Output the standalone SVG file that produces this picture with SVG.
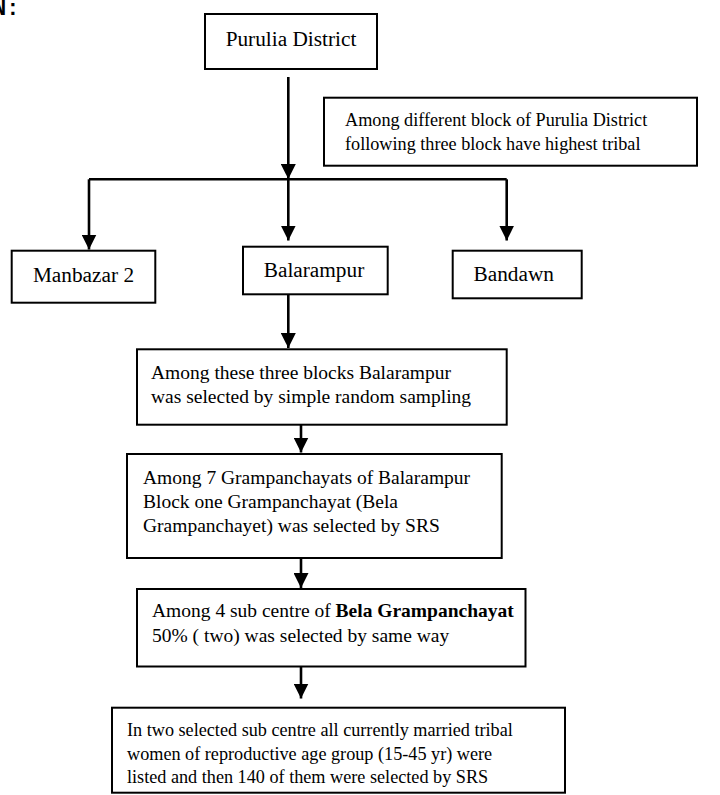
<svg xmlns="http://www.w3.org/2000/svg" width="720" height="795" viewBox="0 0 720 795">
<style>
.box{fill:#fff;stroke:#000;stroke-width:2}
.t{font-family:"Liberation Serif","Times New Roman",serif;font-size:21.3px;fill:#000}
.s{font-size:18.2px}
.m{font-size:19.5px}
.c{text-anchor:middle}
.con{fill:none;stroke:#000;stroke-width:2.6}
</style>
<defs>
<marker id="ah" markerUnits="userSpaceOnUse" markerWidth="15" markerHeight="15" viewBox="0 0 15 15" refX="15" refY="7.5" orient="auto">
<path d="M0,0 L15,7.5 L0,15 z" fill="#000"/>
</marker>
</defs>
<rect width="720" height="795" fill="#fff"/>
<text x="-7" y="15" font-family="Liberation Mono,monospace" font-weight="bold" font-size="22">N:</text>
<g id="connectors">
<path class="con" d="M288.3,77 V179" marker-end="url(#ah)"/>
<path class="con" d="M89,179.3 H506.7"/>
<path class="con" d="M89,179.3 V249.5" marker-end="url(#ah)"/>
<path class="con" d="M288.3,179.3 V240.5" marker-end="url(#ah)"/>
<path class="con" d="M506.7,179.3 V240.5" marker-end="url(#ah)"/>
<path class="con" d="M288.3,294.3 V348" marker-end="url(#ah)"/>
<path class="con" d="M301,424.7 V452.5" marker-end="url(#ah)"/>
<path class="con" d="M301,558 V588" marker-end="url(#ah)"/>
<path class="con" d="M301,666.5 V698.5" marker-end="url(#ah)"/>
</g>
<g id="purulia">
<rect class="box" x="205" y="14" width="172" height="55"/>
<text class="t c" x="291" y="46">Purulia District</text>
</g>
<g id="note">
<rect class="box" x="324" y="97.7" width="373" height="68"/>
<text class="t s" x="345" y="126">Among different block of Purulia District</text>
<text class="t s" x="345" y="150">following three block have highest tribal</text>
</g>
<g id="manbazar">
<rect class="box" x="11.7" y="250.7" width="143.6" height="52"/>
<text class="t c" x="83.5" y="282">Manbazar 2</text>
</g>
<g id="balarampur">
<rect class="box" x="243" y="246.7" width="144.7" height="47.6"/>
<text class="t c" x="314" y="277">Balarampur</text>
</g>
<g id="bandawn">
<rect class="box" x="452.7" y="250.7" width="129" height="47.6"/>
<text class="t c" x="513.7" y="281">Bandawn</text>
</g>
<g id="step1">
<rect class="box" x="137" y="349.3" width="369.7" height="75.4"/>
<text class="t m" x="151" y="378.5">Among these three blocks Balarampur</text>
<text class="t m" x="151" y="403">was selected by simple random sampling</text>
</g>
<g id="step2">
<rect class="box" x="127" y="454" width="374.7" height="104"/>
<text class="t m" x="143" y="483.5">Among 7 Grampanchayats of Balarampur</text>
<text class="t m" x="143" y="507.5">Block one Grampanchayat (Bela</text>
<text class="t m" x="143" y="532">Grampanchayet) was selected by SRS</text>
</g>
<g id="step3">
<rect class="box" x="137" y="589" width="388.5" height="77.5"/>
<text class="t m" x="152" y="617">Among 4 sub centre of <tspan font-weight="bold">Bela Grampanchayat</tspan></text>
<text class="t m" x="152" y="641.5">50% ( two) was selected by same way</text>
</g>
<g id="step4">
<rect class="box" x="112" y="707.7" width="453" height="85"/>
<text class="t s" x="127" y="735.5">In two selected sub centre all currently married tribal</text>
<text class="t s" x="127" y="759.5">women of reproductive age group (15-45 yr) were</text>
<text class="t s" x="127" y="783">listed and then 140 of them were selected by SRS</text>
</g>
</svg>
